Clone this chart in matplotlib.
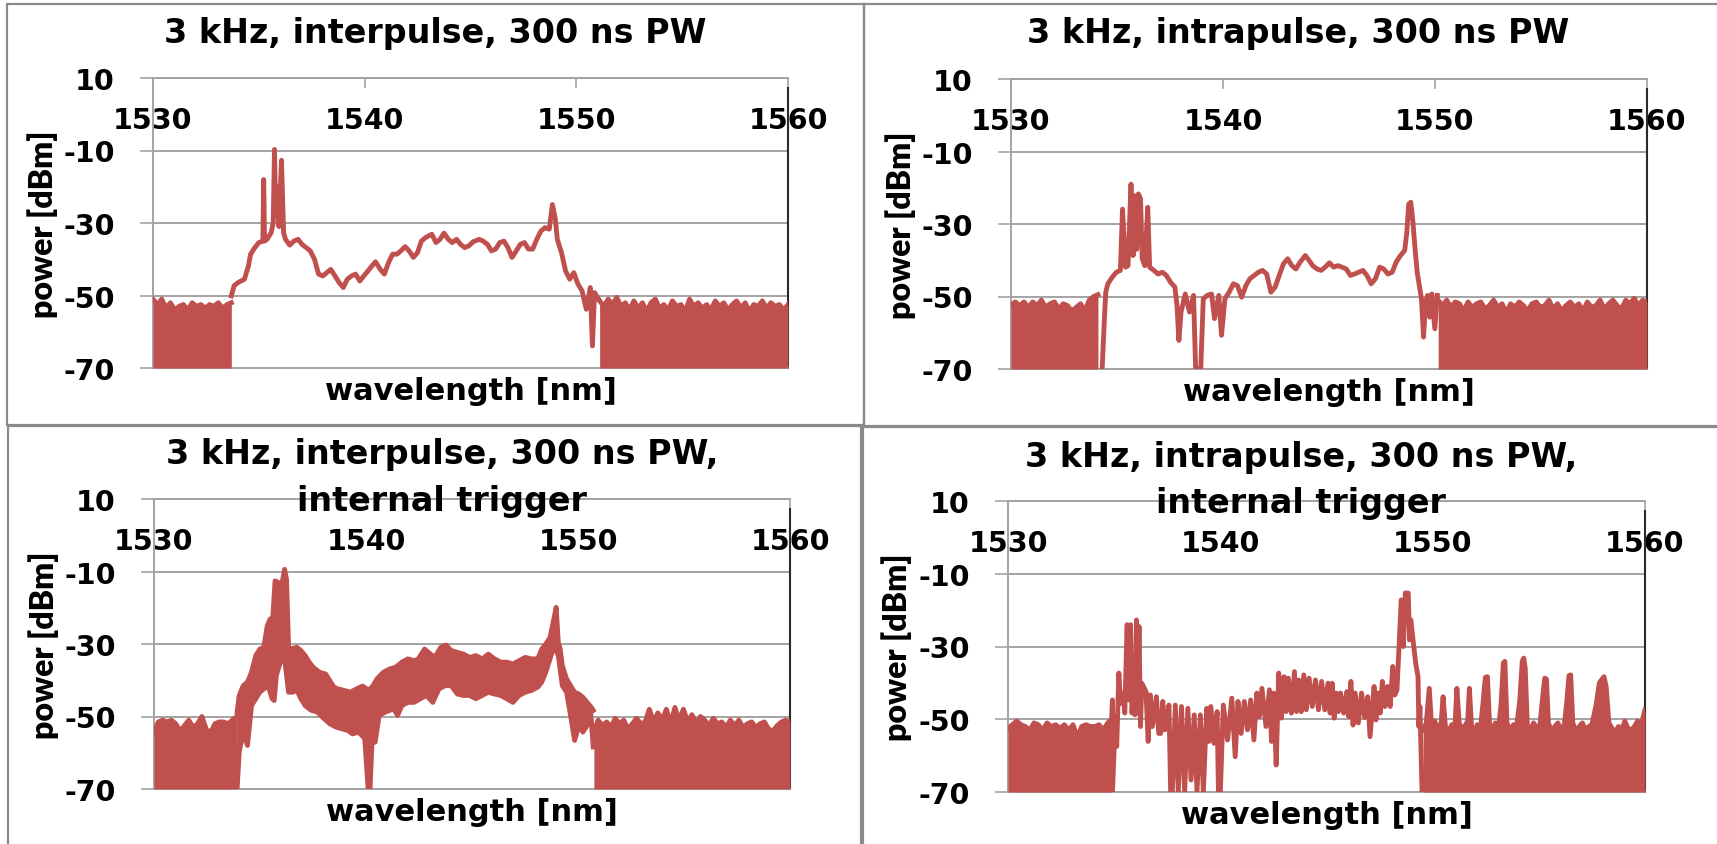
import numpy as np
import matplotlib.pyplot as plt
from matplotlib.patches import Rectangle

plt.rcParams['font.family'] = 'DejaVu Sans'
plt.rcParams['font.weight'] = 'bold'

RED = '#C0504D'
GRID = '#a3a3a3'
LW = 3.5

x_ticks = [1530, 1540, 1550, 1560]
y_ticks = [10, -10, -30, -50, -70]
titles = [['3 kHz, interpulse, 300 ns PW'],
          ['3 kHz, intrapulse, 300 ns PW'],
          ['3 kHz, interpulse, 300 ns PW,', 'internal trigger'],
          ['3 kHz, intrapulse, 300 ns PW,', 'internal trigger']]

# ---- top left: interpulse ----
tl_floor_l = (1530.0, 1533.7, [-51, -52.5, -51, -53.5, -52, -54, -53, -52.5, -54, -52, -53, -52.5,
                               -53.5, -52.5, -53, -52, -53.5, -52.5, -52])
tl_wl = [1533.70, 1533.83, 1534.03, 1534.32, 1534.51, 1534.61, 1534.81, 1535.00, 1535.19, 1535.23,
         1535.27, 1535.39, 1535.58, 1535.68, 1535.74, 1535.80, 1535.88, 1535.95, 1536.07, 1536.17,
         1536.26, 1536.46, 1536.65, 1536.85, 1537.04, 1537.24, 1537.43, 1537.63, 1537.82, 1538.02,
         1538.21, 1538.40, 1538.60, 1538.79, 1538.99, 1539.18, 1539.38, 1539.57, 1539.77, 1539.96,
         1540.16, 1540.35, 1540.51, 1540.74, 1540.93, 1541.13, 1541.32, 1541.52, 1541.71, 1541.91,
         1542.10, 1542.30, 1542.49, 1542.68, 1542.88, 1543.17, 1543.37, 1543.56, 1543.75, 1543.95,
         1544.14, 1544.34, 1544.53, 1544.73, 1544.92, 1545.12, 1545.41, 1545.60, 1545.80, 1545.99,
         1546.19, 1546.38, 1546.58, 1546.77, 1546.96, 1547.16, 1547.35, 1547.55, 1547.74, 1547.94,
         1548.13, 1548.33, 1548.52, 1548.72, 1548.87, 1549.01, 1549.10, 1549.30, 1549.49, 1549.69,
         1549.88, 1550.08, 1550.27, 1550.47, 1550.66, 1550.76, 1550.86, 1551.05]
tl_db = [-50.1, -47.3, -46.4, -45.5, -41.8, -38.6, -36.8, -35.4, -35.0, -18.0,
         -35.0, -34.5, -32.7, -30.0, -9.7, -28.0, -20.0, -31.0, -12.7, -32.7,
         -34.5, -36.1, -35.0, -34.5, -35.9, -36.8, -37.7, -40.0, -44.1, -44.6,
         -43.7, -42.8, -44.6, -46.4, -47.8, -45.5, -44.6, -44.1, -46.0, -44.6,
         -43.2, -41.8, -40.7, -42.8, -44.1, -40.9, -38.6, -38.6, -37.7, -36.5,
         -37.7, -39.5, -38.2, -35.0, -34.0, -33.1, -35.4, -34.5, -32.8, -34.5,
         -35.4, -34.5, -35.9, -36.8, -36.3, -35.2, -34.5, -35.0, -35.9, -37.7,
         -37.2, -35.4, -35.0, -36.8, -39.5, -37.7, -35.9, -35.4, -37.2, -37.2,
         -34.5, -32.2, -31.3, -31.7, -24.9, -29.0, -34.5, -38.2, -43.2, -45.5,
         -43.7, -46.9, -48.7, -53.8, -47.8, -63.9, -49.2, -51.0]
tl_floor_r = (1551.1, 1560.0, [-51.5, -53, -51, -52.5, -50.5, -53, -52, -54, -51.5, -53.5, -52, -54.5,
                               -52, -51, -53.5, -52.5, -54, -51.5, -53, -52.5, -54.5, -51, -53, -52,
                               -53.5, -52.5, -54, -51.5, -53, -52, -54, -52.5, -51.5, -53.5, -52, -54.5,
                               -52.5, -53, -51.5, -53.5, -52, -53, -52.5, -54, -52.5])

# ---- top right: intrapulse ----
tr_floor_l = (1530.0, 1534.1, [-52.5, -51.5, -52.5, -51.5, -53, -51.5, -52.5, -51, -53, -52, -51.5,
                               -53.5, -52, -52.5, -54, -53, -52, -54, -51, -50, -49.5])
tr_wl = [1534.30, 1534.42, 1534.47, 1534.57, 1534.77, 1534.97, 1535.16, 1535.26, 1535.40, 1535.52,
         1535.66, 1535.76, 1535.85, 1535.93, 1536.01, 1536.11, 1536.19, 1536.31, 1536.45, 1536.54,
         1536.74, 1536.94, 1537.14, 1537.33, 1537.53, 1537.73, 1537.83, 1537.92, 1538.02, 1538.22,
         1538.42, 1538.61, 1538.71, 1538.95, 1539.07, 1539.26, 1539.46, 1539.60, 1539.80, 1539.93,
         1540.09, 1540.29, 1540.49, 1540.68, 1540.88, 1541.08, 1541.27, 1541.47, 1541.67, 1541.87,
         1542.06, 1542.26, 1542.46, 1542.65, 1542.85, 1543.05, 1543.25, 1543.44, 1543.64, 1543.88,
         1544.03, 1544.23, 1544.43, 1544.63, 1544.82, 1545.02, 1545.22, 1545.41, 1545.61, 1545.81,
         1546.01, 1546.20, 1546.40, 1546.60, 1546.79, 1546.99, 1547.19, 1547.39, 1547.58, 1547.78,
         1547.98, 1548.17, 1548.37, 1548.57, 1548.67, 1548.76, 1548.86, 1548.96, 1549.06, 1549.16,
         1549.26, 1549.36, 1549.46, 1549.55, 1549.65, 1549.75, 1549.85, 1549.99, 1550.11]
tr_db = [-70.0, -54.3, -48.8, -46.5, -44.7, -43.3, -42.8, -25.9, -41.9, -41.5,
         -19.0, -38.7, -22.2, -37.0, -21.7, -23.1, -39.6, -41.5, -25.4, -41.9,
         -42.8, -43.8, -43.3, -44.2, -46.1, -47.4, -52.5, -62.1, -54.3, -49.3,
         -54.3, -49.7, -70.0, -70.0, -50.6, -49.7, -49.3, -56.1, -49.7, -60.7,
         -50.6, -48.8, -46.5, -47.0, -50.2, -47.0, -45.1, -44.2, -43.3, -42.8,
         -43.8, -48.8, -47.4, -44.2, -41.0, -39.6, -41.5, -42.4, -40.5, -38.7,
         -39.8, -41.5, -42.4, -42.8, -41.9, -40.7, -41.9, -41.5, -41.9, -42.4,
         -44.2, -43.8, -43.3, -42.8, -44.2, -46.5, -45.1, -41.9, -42.4, -43.8,
         -43.3, -40.5, -38.7, -37.3, -32.3, -24.5, -24.0, -29.5, -36.9, -43.3,
         -47.0, -50.6, -61.2, -51.6, -49.7, -55.7, -49.3, -58.9, -49.7]
tr_floor_r = (1550.15, 1560.0, [-51, -52.5, -51, -53, -51.5, -52, -54, -51.5, -53, -52, -51.5, -53.5,
                                -52.5, -51, -53, -52, -54.5, -52, -53, -51.5, -52.5, -54, -52, -51.5,
                                -53, -52.5, -51, -53.5, -52, -54, -52.5, -51.5, -53, -52, -54, -51.5,
                                -53, -52.5, -51, -53.5, -52, -51, -52.5, -53.5, -51, -52, -50.5, -52.5,
                                -51, -51.5])

# ---- bottom left: interpulse, internal trigger (band between envelopes) ----
bl_floor_l = (1530.0, 1533.9, [-54.5, -51.5, -51, -51.5, -51, -52, -54, -52.5, -51, -53, -52, -50,
                               -53.5, -54.5, -52, -51.5, -51.5, -52, -51, -50])
bl_up_wl = [1533.92, 1534.02, 1534.21, 1534.41, 1534.60, 1534.80, 1534.99, 1535.18, 1535.34, 1535.48,
            1535.57, 1535.71, 1535.86, 1536.02, 1536.16, 1536.25, 1536.35, 1536.54, 1536.74, 1536.93,
            1537.13, 1537.32, 1537.51, 1537.81, 1538.10, 1538.29, 1538.49, 1538.68, 1538.97, 1539.26,
            1539.55, 1539.84, 1540.14, 1540.33, 1540.52, 1540.82, 1541.11, 1541.40, 1541.69, 1541.98,
            1542.27, 1542.47, 1542.76, 1543.05, 1543.24, 1543.53, 1543.77, 1544.02, 1544.31, 1544.60,
            1544.89, 1545.18, 1545.48, 1545.77, 1546.06, 1546.35, 1546.64, 1546.93, 1547.22, 1547.51,
            1547.81, 1548.10, 1548.29, 1548.48, 1548.68, 1548.83, 1548.97, 1549.07, 1549.16, 1549.26,
            1549.46, 1549.65, 1549.84, 1550.04, 1550.23, 1550.43, 1550.62, 1550.72]
bl_up_db = [-48.8, -44.2, -41.5, -40.5, -37.8, -33.2, -31.4, -30.9, -25.0, -23.1,
            -25.9, -12.6, -13.0, -13.9, -9.4, -12.1, -31.4, -31.2, -30.9, -31.8,
            -33.2, -35.0, -36.4, -37.8, -38.3, -40.1, -41.9, -42.4, -42.8, -43.3,
            -42.4, -41.6, -42.8, -41.5, -39.6, -37.8, -36.9, -36.4, -35.0, -34.1,
            -34.6, -34.1, -31.4, -32.8, -33.7, -30.9, -30.3, -31.8, -32.3, -32.8,
            -33.7, -33.2, -34.1, -32.8, -34.1, -35.0, -35.0, -35.5, -34.6, -33.7,
            -34.1, -34.1, -31.4, -30.0, -28.2, -24.0, -19.9, -29.5, -31.4, -36.0,
            -39.6, -41.5, -43.3, -43.8, -44.7, -46.1, -47.4, -48.3]
bl_lo_wl = [1533.92, 1534.02, 1534.21, 1534.41, 1534.60, 1534.80, 1534.99, 1535.18, 1535.38, 1535.57,
            1535.67, 1535.77, 1535.96, 1536.16, 1536.35, 1536.54, 1536.74, 1536.93, 1537.13, 1537.42,
            1537.71, 1538.00, 1538.29, 1538.58, 1538.87, 1539.16, 1539.36, 1539.65, 1539.94, 1540.10,
            1540.19, 1540.29, 1540.43, 1540.62, 1540.91, 1541.30, 1541.49, 1541.69, 1541.98, 1542.27,
            1542.56, 1542.85, 1543.15, 1543.44, 1543.73, 1544.02, 1544.31, 1544.60, 1544.89, 1545.18,
            1545.48, 1545.77, 1546.06, 1546.35, 1546.64, 1546.93, 1547.22, 1547.51, 1547.81, 1548.10,
            1548.29, 1548.48, 1548.68, 1548.87, 1549.07, 1549.26, 1549.46, 1549.65, 1549.84, 1550.04,
            1550.23, 1550.43, 1550.62, 1550.72]
bl_lo_db = [-70.0, -59.8, -54.3, -58.0, -47.0, -45.1, -43.3, -42.4, -41.5, -45.1,
            -45.6, -38.7, -35.0, -34.1, -43.3, -43.3, -42.8, -45.1, -47.0, -48.3,
            -48.8, -50.5, -52.0, -52.9, -53.4, -53.9, -54.8, -54.3, -56.1, -70.0,
            -70.0, -56.1, -57.1, -49.7, -48.8, -47.9, -49.7, -47.0, -46.1, -46.1,
            -45.1, -44.2, -46.1, -42.4, -41.5, -41.5, -43.8, -44.2, -44.2, -45.1,
            -44.2, -43.3, -43.8, -44.2, -45.1, -46.1, -44.2, -43.3, -42.8, -41.9,
            -40.5, -37.8, -34.1, -30.5, -33.2, -41.5, -43.3, -49.7, -56.6, -52.5,
            -54.3, -52.5, -50.6, -58.4]
bl_floor_r = (1550.75, 1560.0, [-54, -51, -52.5, -51.5, -53, -50.5, -52, -51, -53.5, -52, -50.5, -52,
                                -51.5, -48, -51.5, -49, -51, -48, -52, -47.5, -51, -48, -51.5, -49.5,
                                -52, -50, -51, -52.5, -50.5, -52, -51.5, -53, -51, -52.5, -51, -53,
                                -52, -51.5, -53, -52, -51.5, -53.5, -54, -52.5, -51.5, -51, -51.5])

# ---- bottom right: intrapulse, internal trigger (trace swings between the two envelopes) ----
br_floor_l = (1530.0, 1534.9, [-52.5, -51.5, -50.5, -51.5, -52, -53, -51, -51.5, -53, -51, -52, -51.5,
                               -52.5, -51.5, -53, -51.5, -55, -52, -51.5, -52, -52, -51.5, -53, -51, -50])
br_up_wl = [1534.92, 1535.06, 1535.22, 1535.42, 1535.61, 1535.77, 1535.91, 1536.05, 1536.17, 1536.30,
            1536.50, 1536.70, 1536.99, 1537.29, 1537.58, 1537.88, 1538.17, 1538.47, 1538.77, 1539.06,
            1539.36, 1539.55, 1539.85, 1540.14, 1540.54, 1540.83, 1541.13, 1541.43, 1541.72, 1541.96,
            1542.31, 1542.51, 1542.75, 1543.00, 1543.20, 1543.49, 1543.69, 1543.93, 1544.18, 1544.48,
            1544.77, 1545.07, 1545.27, 1545.46, 1545.66, 1545.96, 1546.15, 1546.35, 1546.65, 1546.94,
            1547.24, 1547.43, 1547.63, 1547.87, 1548.12, 1548.32, 1548.52, 1548.71, 1548.85, 1548.97,
            1549.11, 1549.31, 1549.40, 1549.50]
br_up_db = [-44.7, -49.3, -37.3, -42.8, -24.0, -24.0, -40.1, -22.7, -24.5, -40.1,
            -42.4, -43.3, -43.8, -45.1, -46.1, -46.1, -46.5, -47.0, -48.8, -48.8,
            -47.0, -46.5, -47.9, -46.1, -44.2, -45.1, -45.1, -44.7, -42.8, -41.5,
            -41.9, -42.8, -37.3, -38.3, -38.7, -36.9, -39.2, -37.8, -38.7, -39.2,
            -39.6, -40.1, -40.1, -42.8, -42.8, -42.4, -39.6, -42.8, -42.8, -43.8,
            -41.0, -42.8, -39.6, -41.0, -35.5, -41.9, -17.2, -15.3, -15.3, -22.7,
            -30.0, -38.3, -46.5, -70.0]
br_lo_wl = [1534.73, 1534.92, 1535.12, 1535.30, 1535.50, 1535.69, 1535.84, 1535.98, 1536.11, 1536.24,
            1536.60, 1536.80, 1537.10, 1537.19, 1537.39, 1537.66, 1537.74, 1538.02, 1538.32, 1538.62,
            1538.90, 1539.20, 1539.46, 1539.70, 1539.91, 1540.00, 1540.34, 1540.70, 1540.98, 1541.28,
            1541.58, 1541.84, 1542.15, 1542.41, 1542.63, 1542.88, 1543.10, 1543.35, 1543.59, 1543.81,
            1544.05, 1544.33, 1544.62, 1544.92, 1545.17, 1545.36, 1545.56, 1545.81, 1546.05, 1546.25,
            1546.50, 1546.80, 1547.05, 1547.33, 1547.53, 1547.75, 1548.00, 1548.22, 1548.62, 1548.91,
            1549.20, 1549.35]
br_lo_db = [-70.0, -70.0, -57.5, -45.6, -48.3, -44.7, -48.3, -48.8, -48.3, -52.0,
            -56.1, -52.0, -53.9, -53.9, -52.9, -70.0, -70.0, -70.0, -70.0, -66.7,
            -70.0, -70.0, -56.1, -56.6, -70.0, -70.0, -55.7, -60.3, -53.9, -52.9,
            -55.7, -49.3, -52.0, -56.1, -62.6, -49.7, -47.9, -48.3, -47.9, -47.9,
            -47.4, -46.5, -47.4, -47.4, -48.3, -49.7, -47.9, -48.3, -49.3, -51.6,
            -51.0, -49.5, -54.8, -50.2, -48.3, -46.5, -46.5, -43.3, -30.0, -28.2,
            -34.6, -52.0]
br_right_wl = [1549.55, 1549.70, 1549.84, 1549.95, 1550.10, 1550.25, 1550.40, 1550.49, 1550.60, 1550.75,
               1550.90, 1551.05, 1551.14, 1551.25, 1551.40, 1551.55, 1551.65, 1551.73, 1551.83, 1551.95,
               1552.10, 1552.25, 1552.38, 1552.48, 1552.58, 1552.68, 1552.80, 1552.95, 1553.10, 1553.22,
               1553.33, 1553.40, 1553.50, 1553.65, 1553.80, 1553.95, 1554.10, 1554.22, 1554.29, 1554.36,
               1554.46, 1554.60, 1554.75, 1554.90, 1555.05, 1555.18, 1555.28, 1555.36, 1555.45, 1555.60,
               1555.75, 1555.90, 1556.05, 1556.20, 1556.32, 1556.42, 1556.50, 1556.60, 1556.75, 1556.90,
               1557.05, 1557.20, 1557.35, 1557.50, 1557.70, 1557.85, 1557.97, 1558.07, 1558.17, 1558.30,
               1558.45, 1558.60, 1558.75, 1558.90, 1559.05, 1559.20, 1559.35, 1559.50, 1559.65, 1559.80,
               1560.00]
br_right_db = [-53, -51, -41.5, -52, -50.5, -53, -51, -43.8, -52, -53.5,
               -51.5, -52, -41.5, -51, -53, -51.5, -50.5, -41.5, -52, -53.5,
               -51.5, -52.5, -45, -38.5, -38.3, -51.5, -53, -51, -52.5, -46,
               -34.5, -34.1, -51, -53.5, -51.5, -52, -45, -34, -33.2, -36,
               -52, -53, -51, -52.5, -51.5, -44, -38.7, -39, -51, -53.5,
               -52, -51, -53, -51.5, -45, -38, -37.8, -51, -53.5, -52,
               -51, -53, -52, -51.5, -46, -40, -39, -38.3, -41, -51,
               -52.5, -53.5, -52, -53, -50.5, -52.5, -53, -52, -50.5, -52,
               -47.4]

# figure layout (pixel boxes measured on the reference, 1717 x 845)
W, H = 1717, 845
fig = plt.figure(figsize=(W / 100, H / 100), dpi=100)


def fbox(l, t, r, b):
    return [l / W, 1 - b / H, (r - l) / W, (b - t) / H]


axes = [fig.add_axes(fbox(153, 79, 788, 369)),
        fig.add_axes(fbox(1011, 80, 1647, 370)),
        fig.add_axes(fbox(154, 500, 790, 790)),
        fig.add_axes(fbox(1008, 502, 1645, 793))]

for ax in axes:
    ax.set_xlim(1530, 1560)
    ax.set_ylim(-70, 10)
    ax.set_xticks(x_ticks)
    ax.set_yticks(y_ticks)
    ax.set_yticklabels([str(v) for v in y_ticks])
    ax.grid(axis='y', color=GRID, lw=1.4)
    ax.set_axisbelow(True)
    ax.xaxis.set_ticks_position('top')
    ax.tick_params(axis='x', direction='in', length=7, width=1.2, color=GRID, pad=-40,
                   labelsize=20.5)
    ax.tick_params(axis='y', direction='out', length=9.5, width=1.2, color=GRID, pad=18,
                   labelsize=20.5)
    for s in ['top', 'left', 'bottom']:
        ax.spines[s].set_color(GRID)
        ax.spines[s].set_linewidth(1.4)
    ax.spines['right'].set_color('#2a2a2a')
    ax.spines['right'].set_linewidth(1.5)
    ax.spines['right'].set_bounds(-70, 7.2)
    ax.xaxis.set_label_position('bottom')
    ax.set_xlabel('wavelength [nm]', fontsize=22, fontweight='bold')
    ax.xaxis.set_label_coords(0.5, -0.027)
    ax.xaxis.label.set_va('top')
    ax.set_ylabel('power [dBm]', fontsize=23, fontweight='heavy', family='Lato')
    ax.yaxis.set_label_coords(-0.15, 0.5)


def floor(ax, spec):
    a, b, tops = spec
    wl = np.linspace(a, b, len(tops))
    ax.fill_between(wl, -70, tops, color=RED, lw=0, zorder=3)
    ax.plot(wl, tops, color=RED, lw=LW, zorder=3)


def band(ax, uw, ud, lw_, ld):
    ax.fill(np.r_[uw, lw_[::-1]], np.r_[ud, ld[::-1]], color=RED, lw=0, zorder=3)
    ax.plot(uw, ud, color=RED, lw=LW, zorder=3)
    ax.plot(lw_, ld, color=RED, lw=LW, zorder=3)


def swing(ax, uw, ud, lw_, ld):
    wl = np.r_[uw, lw_]
    db = np.r_[ud, ld]
    order = np.argsort(wl, kind='stable')
    ax.plot(wl[order], db[order], color=RED, lw=LW, zorder=3)


# top left
floor(axes[0], tl_floor_l)
axes[0].plot(tl_wl, tl_db, color=RED, lw=LW, zorder=3)
floor(axes[0], tl_floor_r)
# top right
floor(axes[1], tr_floor_l)
axes[1].plot(tr_wl, tr_db, color=RED, lw=LW, zorder=3)
floor(axes[1], tr_floor_r)
# bottom left
floor(axes[2], bl_floor_l)
band(axes[2], np.array(bl_up_wl), np.array(bl_up_db), np.array(bl_lo_wl), np.array(bl_lo_db))
floor(axes[2], bl_floor_r)
# bottom right
floor(axes[3], br_floor_l)
swing(axes[3], br_up_wl, br_up_db, br_lo_wl, br_lo_db)
axes[3].fill_between(br_right_wl, -70, br_right_db, color=RED, lw=0, zorder=3)
axes[3].plot(br_right_wl, br_right_db, color=RED, lw=LW, zorder=3)

# titles
title_pos = [(435, [33]), (1298, [33]), (442, [455, 502]), (1301, [458, 503])]
for lines, (cx, ys) in zip(titles, title_pos):
    for txt, y in zip(lines, ys):
        fig.text(cx / W, 1 - y / H, txt, ha='center', va='center', fontsize=24,
                 fontweight='bold', zorder=5)

# panel frames
for l, t, r, b in [(7, 5, 864, 426), (864, 5, 1722, 427), (8, 427, 861, 850), (863, 428, 1722, 850)]:
    fig.add_artist(Rectangle((l / W, 1 - b / H), (r - l) / W, (b - t) / H,
                             transform=fig.transFigure, fill=False, ec='#8a8a8a', lw=1.6))

fig.savefig('out.png', dpi=100)
